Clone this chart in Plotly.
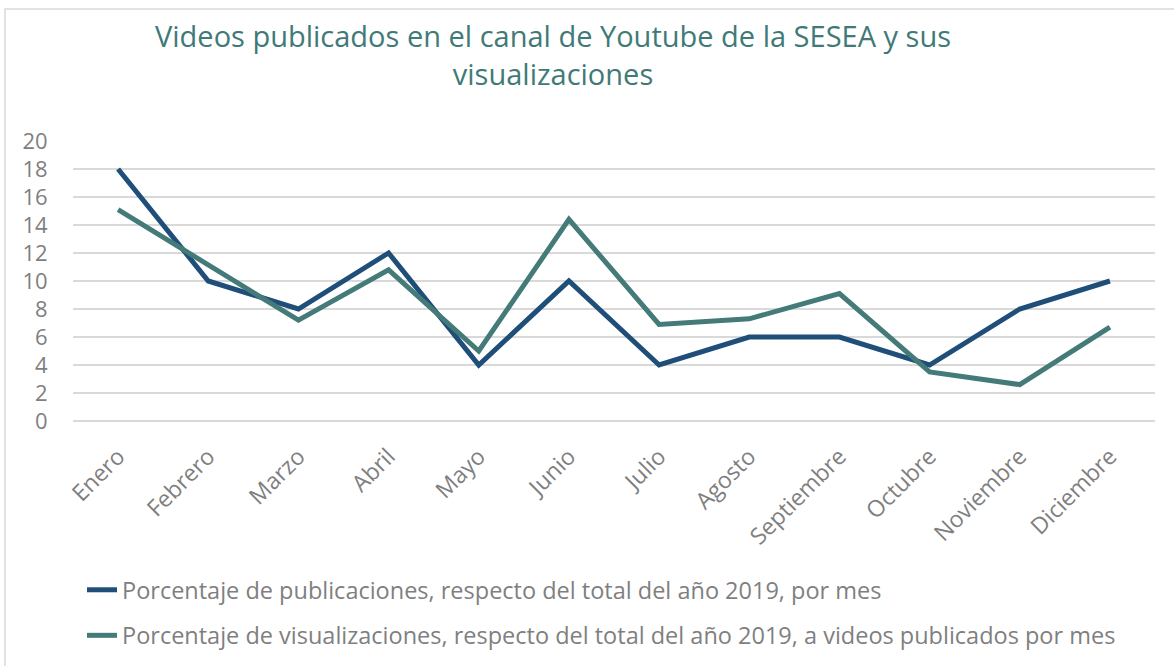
import plotly.graph_objects as go

# Datos
meses = ["Enero", "Febrero", "Marzo", "Abril", "Mayo", "Junio", "Julio",
         "Agosto", "Septiembre", "Octubre", "Noviembre", "Diciembre"]
publicaciones = [18, 10, 8, 12, 4, 10, 4, 6, 6, 4, 8, 10]
visualizaciones = [15.1, 11.1, 7.2, 10.8, 5.0, 14.4, 6.9, 7.3, 9.1, 3.5, 2.6, 6.7]
nombre_pub = "Porcentaje de publicaciones, respecto del total del año 2019, por mes"
nombre_vis = ("Porcentaje de visualizaciones, respecto del total del año 2019, "
              "a videos publicados por mes")
titulo = "Videos publicados en el canal de Youtube de la SESEA y sus<br>visualizaciones"

AZUL = "#1f4e79"
VERDE = "#447a78"
GRIS = "#7f7f7f"
FUENTE = "Open Sans"

W, H = 1174, 666
L, R, T, B = 73, 19, 141, 245

fig = go.Figure()
fig.add_trace(go.Scatter(x=meses, y=publicaciones, mode="lines", name=nombre_pub,
                         line=dict(color=AZUL, width=5), legendgroup="a"))
fig.add_trace(go.Scatter(x=meses, y=visualizaciones, mode="lines", name=nombre_vis,
                         line=dict(color=VERDE, width=5), legendgroup="b"))

# Marco gris claro alrededor del gráfico
pw, ph = W - L - R, H - T - B
fig.add_shape(type="rect", xref="paper", yref="paper",
              x0=(5 - L) / pw, x1=(W + 10 - L) / pw,
              y0=(H - B - (H + 10)) / ph, y1=(H - B - 9) / ph,
              line=dict(color="#d9d9d9", width=1.5), layer="below")

fig.update_layout(
    width=W, height=H,
    margin=dict(l=L, r=R, t=T, b=B, autoexpand=False),
    plot_bgcolor="white", paper_bgcolor="white",
    font=dict(family=FUENTE, color=GRIS, size=20),
    title=dict(text=titulo, x=553 / W, xref="container", xanchor="center",
               y=1 - 47 / H, yref="container", yanchor="top",
               font=dict(family=FUENTE, size=29, color="#3f7a78")),
    xaxis=dict(showgrid=False, showline=False, tickangle=-45,
               range=[-0.5, len(meses) - 0.5],
               tickfont=dict(size=23, color=GRIS), ticks="outside",
               ticklen=12, tickcolor="white"),
    yaxis=dict(range=[0, 20], dtick=2, showgrid=True, gridcolor="#d9d9d9",
               gridwidth=1.5, zeroline=True, zerolinecolor="#d9d9d9",
               zerolinewidth=1.5, tickfont=dict(size=22, color=GRIS),
               ticks="outside", ticklen=20, tickcolor="white"),
    showlegend=True,
    legend=dict(orientation="v", xref="container", yref="container",
                x=82 / W, y=1 - 568 / H, xanchor="left", yanchor="top",
                font=dict(size=23.5, color=GRIS), tracegroupgap=12,
                traceorder="grouped"),
)

# Sin margen en el cuerpo de la página para que la figura ocupe la ventana
fig.write_html("out.html", config={"displayModeBar": False},
               post_script="document.body.style.margin='0';")
